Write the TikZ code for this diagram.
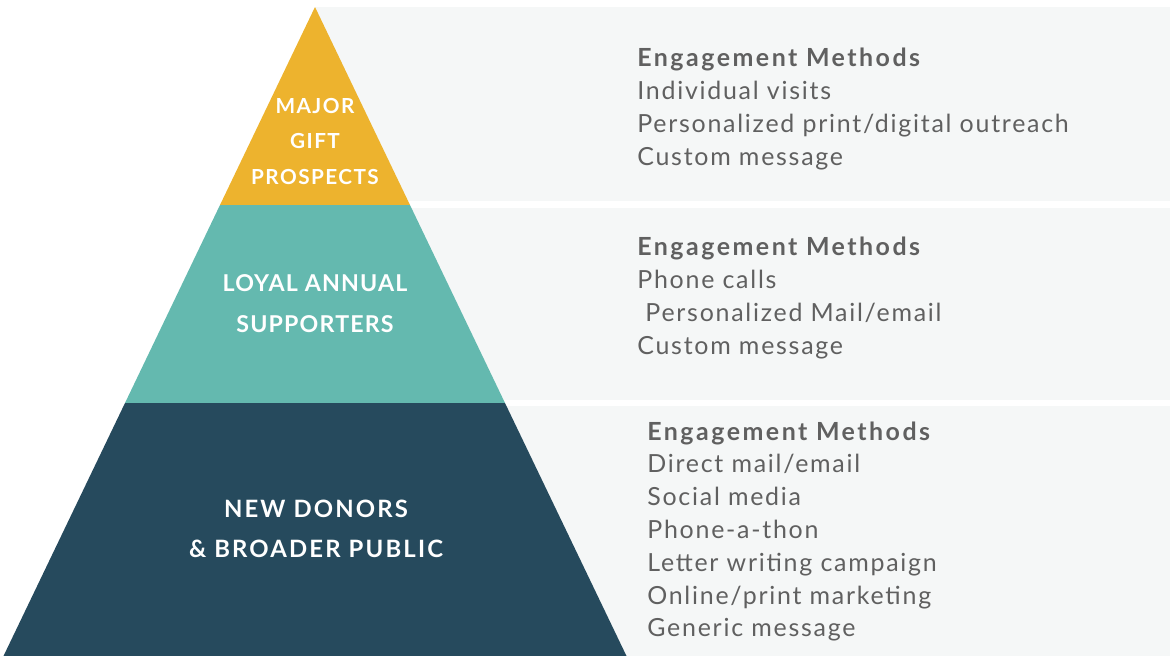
\documentclass[tikz,border=0pt]{standalone}
\usepackage{fontspec}
\setmainfont{Lato}
\newfontfamily\listfont{Lato}[LetterSpace=7]
\newfontfamily\tierfont{Lato}[LetterSpace=7]
\usetikzlibrary{positioning}
\definecolor{majorcol}{HTML}{EDB32E}
\definecolor{loyalcol}{HTML}{64B9AF}
\definecolor{newcol}{HTML}{264A5D}
\definecolor{bandcol}{HTML}{F5F7F7}
\definecolor{textcol}{HTML}{606060}

\begin{document}
\begin{tikzpicture}[x=0.02cm,y=-0.02cm]
\tikzset{tier/.style={text=white,anchor=base},
  head/.style={text=textcol,font=\fontsize{14.2}{17}\selectfont\listfont\bfseries\addfontfeatures{LetterSpace=10},anchor=base west,inner sep=0pt},
  item/.style={text=textcol,font=\fontsize{14.2}{17}\selectfont\listfont,anchor=base west,inner sep=0pt}}
\useasboundingbox (0,0) rectangle (1170,656);

% grey bands behind the lists
\fill[bandcol] (315,7) rectangle (1170,201);
\fill[bandcol] (315,208) rectangle (1170,400);
\fill[bandcol] (315,406) rectangle (1170,656);

% pyramid
\coordinate (apex) at (315,7);
\coordinate (l1) at (220,205); \coordinate (r1) at (410,205);
\coordinate (l2) at (125,403); \coordinate (r2) at (505,403);
\coordinate (l3) at (3.5,656); \coordinate (r3) at (626.5,656);
\fill[majorcol] (apex) -- (r1) -- (l1) -- cycle;
\fill[loyalcol] (l1) -- (r1) -- (r2) -- (l2) -- cycle;
\fill[newcol] (l2) -- (r2) -- (r3) -- (l3) -- cycle;

% tier labels
\foreach \t/\y [count=\i] in {MAJOR/113,GIFT/148,PROSPECTS/184}
  \node[tier,font=\fontsize{11.8}{14}\selectfont\tierfont\bfseries] (major\i) at (315,\y) {\t};
\foreach \t/\y [count=\i] in {LOYAL ANNUAL/291,SUPPORTERS/332}
  \node[tier,font=\fontsize{13.2}{16}\selectfont\tierfont\bfseries\addfontfeatures{LetterSpace=5}] (loyal\i) at (315,\y) {\t};
\foreach \t/\y [count=\i] in {NEW DONORS/517,\& BROADER PUBLIC/557}
  \node[tier,font=\fontsize{13.6}{16}\selectfont\tierfont\bfseries\addfontfeatures{LetterSpace=9}] (new\i) at (316,\y) {\t};

% engagement methods
\node[head] (majorhead) at (637,66) {Engagement Methods};
\foreach \t [count=\i] in {Individual visits,Personalized print/digital outreach,Custom message}
  \node[item] (majoritem\i) at (637,66+33*\i) {\t};

\node[head] (loyalhead) at (637,255) {Engagement Methods};
\foreach \t [count=\i] in {Phone calls,\ Personalized Mail/email,Custom message}
  \node[item] (loyalitem\i) at (637,255+33*\i) {\t};

\node[head] (newhead) at (647,440) {Engagement Methods};
\foreach \t [count=\i] in {Direct mail/email,Social media,Phone-a-thon,Letter writing campaign,Online/print marketing,Generic message}
  \node[item] (newitem\i) at (647,440+32.8*\i) {\t};

\end{tikzpicture}
\end{document}
